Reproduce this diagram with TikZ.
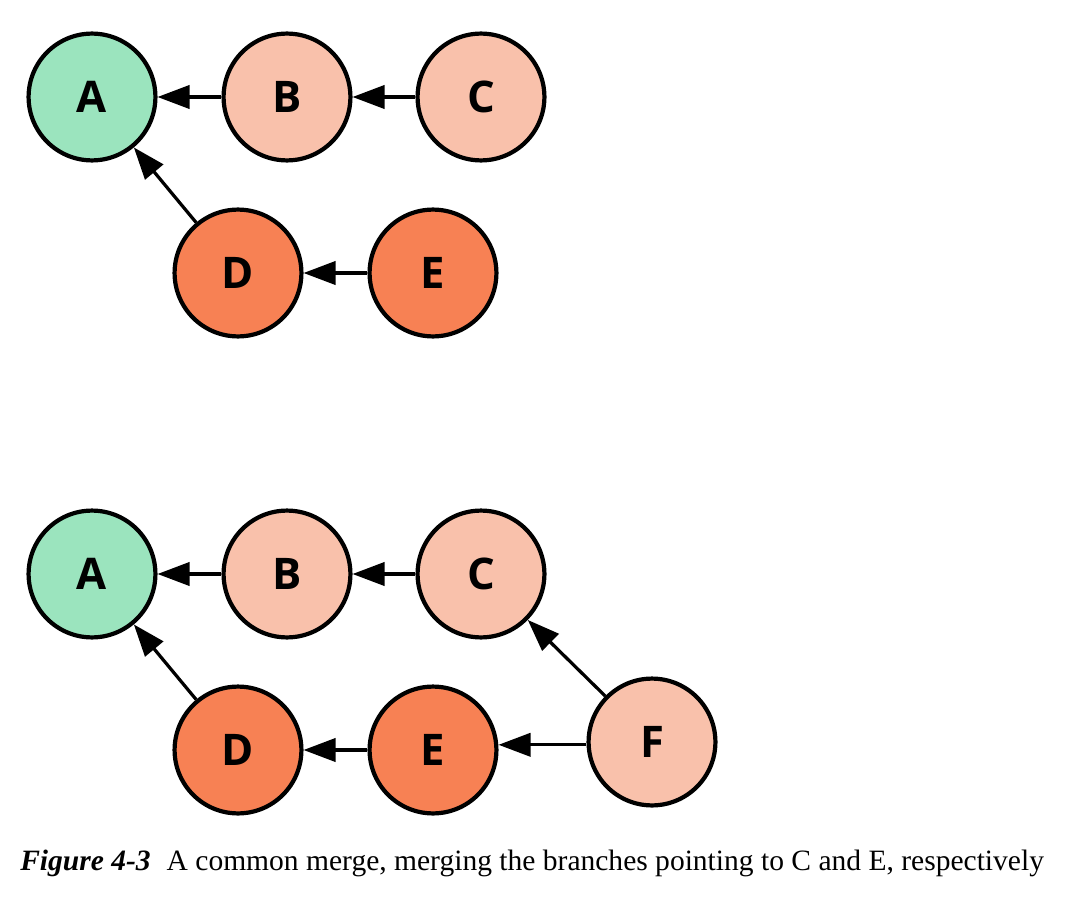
\documentclass[tikz,border=0pt]{standalone}
\usepackage{fontspec}
\setsansfont{Open Sans}
\setmainfont{Liberation Serif}
\usetikzlibrary{arrows.meta}
\definecolor{mint}{RGB}{155,228,190}
\definecolor{peach}{RGB}{249,193,171}
\definecolor{coral}{RGB}{247,129,84}
\begin{document}
\begin{tikzpicture}[x=0.025cm,y=-0.025cm,
  commit/.style={circle,draw=black,line width=3pt,minimum size=3.17cm,inner sep=0pt,font=\sffamily\bfseries\fontsize{31}{31}\selectfont},
  edge/.style={line width=2.3pt,-{Triangle[length=0.8cm,width=0.58cm]}}]
\useasboundingbox (0,0) rectangle (1073,900);
% before the merge
\node[commit,fill=mint] (a1) at (92,97) {A};
\node[commit,fill=peach] (b1) at (287,97) {B};
\node[commit,fill=peach] (c1) at (481,97) {C};
\node[commit,fill=coral] (d1) at (238,273) {D};
\node[commit,fill=coral] (e1) at (433,273) {E};
\draw[edge] (b1) -- (a1);
\draw[edge] (c1) -- (b1);
\draw[edge] (d1) -- (a1);
\draw[edge] (e1) -- (d1);
% after the merge
\node[commit,fill=mint] (a2) at (92,574) {A};
\node[commit,fill=peach] (b2) at (287,574) {B};
\node[commit,fill=peach] (c2) at (481,574) {C};
\node[commit,fill=coral] (d2) at (238,750) {D};
\node[commit,fill=coral] (e2) at (433,750) {E};
\node[commit,fill=peach] (f2) at (652,742) {F};
\draw[edge] (b2) -- (a2);
\draw[edge] (c2) -- (b2);
\draw[edge] (d2) -- (a2);
\draw[edge] (e2) -- (d2);
\draw[edge] ([yshift=-0.07cm]f2.west) -- ([yshift=-0.07cm]f2.west -| e2.east);
\draw[edge] (f2) -- (c2);
% caption
\node[anchor=west,inner sep=0pt,font=\fontsize{21}{21}\selectfont] (cap) at (20,863)
  {\textbf{\textit{Figure 4-3}}\hspace{0.4cm}A common merge, merging the branches pointing to C and E, respectively};
\end{tikzpicture}
\end{document}
